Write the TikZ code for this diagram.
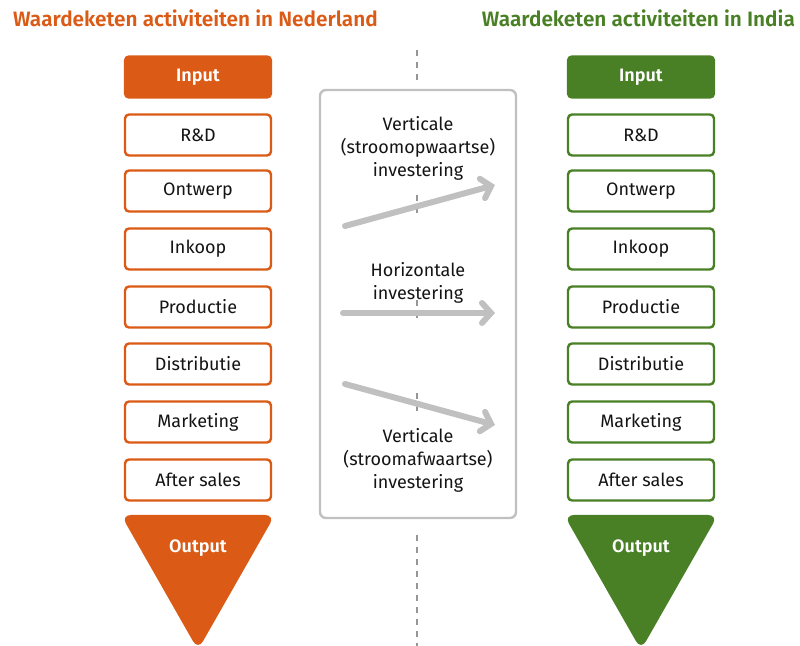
\documentclass[tikz,border=0pt]{standalone}
\usepackage{fontspec}
\setmainfont{Fira Sans}[BoldFont={Fira Sans SemiBold}]
\usepackage{tikz}
\usetikzlibrary{arrows.meta, positioning, calc}
\definecolor{nlorange}{RGB}{218,90,22}
\definecolor{ingreen}{RGB}{73,128,37}
\definecolor{midgray}{RGB}{192,192,192}
\definecolor{dashgray}{RGB}{150,150,150}
\definecolor{txtdark}{RGB}{20,20,20}
\tikzset{
  stepnl/.style={rectangle, draw=nlorange, fill=white,
    minimum width=73pt, minimum height=20.5pt,
    font=\fontsize{9}{11}\selectfont, text=txtdark, rounded corners=2pt, line width=1.2pt},
  stepin/.style={stepnl, draw=ingreen},
  inputnl/.style={stepnl, fill=nlorange, text=white, font=\fontsize{9}{11}\selectfont\bfseries},
  inputin/.style={inputnl, draw=ingreen, fill=ingreen},
  titletext/.style={font=\fontsize{10.4}{12}\selectfont\bfseries},
  midtext/.style={align=center, font=\fontsize{9}{11.5}\selectfont, text=txtdark},
  invarrow/.style={-{Straight Barb[length=4.5pt, width=10pt, line cap=round]}, line width=3pt, color=midgray, line cap=round},
  splitline/.style={dashed, dash pattern=on 3pt off 3pt, color=dashgray, line width=0.6pt}
}

\begin{document}
\begin{tikzpicture}[x=0.5pt, y=-0.5pt]
  \useasboundingbox (0,0) rectangle (800,646);

  % titles
  \node[titletext, text=nlorange, anchor=west] (titlenl) at (6,18) {Waardeketen activiteiten in Nederland};
  \node[titletext, text=ingreen, anchor=east] (titlein) at (802,18) {Waardeketen activiteiten in India};

  % dividing line
  \draw[splitline] (417,50) -- (417,82);
  \draw[splitline] (417,535) -- (417,646);

  % Value chain Netherlands (left side)
  \node[inputnl] (nlinput) at (198,77) {Input};
  \node[stepnl] (nlrd) at (198,135) {R\&D};
  \node[stepnl] (nlontwerp) at (198,191) {Ontwerp};
  \node[stepnl] (nlinkoop) at (198,249) {Inkoop};
  \node[stepnl] (nlproductie) at (198,307) {Productie};
  \node[stepnl] (nldistributie) at (198,364) {Distributie};
  \node[stepnl] (nlmarketing) at (198,422) {Marketing};
  \node[stepnl] (nlaftersales) at (198,480) {After sales};
  \fill[nlorange, rounded corners=5pt] (121,515) -- (275,515) -- (198,650) -- cycle;
  \node[font=\fontsize{9}{11}\selectfont\bfseries, text=white] (nloutput) at (198,548) {Output};

  % Value chain India (right side)
  \node[inputin] (ininput) at (641,77) {Input};
  \node[stepin] (inrd) at (641,135) {R\&D};
  \node[stepin] (inontwerp) at (641,191) {Ontwerp};
  \node[stepin] (ininkoop) at (641,249) {Inkoop};
  \node[stepin] (inproductie) at (641,307) {Productie};
  \node[stepin] (indistributie) at (641,364) {Distributie};
  \node[stepin] (inmarketing) at (641,422) {Marketing};
  \node[stepin] (inaftersales) at (641,480) {After sales};
  \fill[ingreen, rounded corners=5pt] (564,515) -- (718,515) -- (641,650) -- cycle;
  \node[font=\fontsize{9}{11}\selectfont\bfseries, text=white] (inoutput) at (641,548) {Output};

  % investment types (middle)
  \draw[midgray, line width=1.2pt, rounded corners=3pt] (320,90) rectangle (516,518);
  \draw[splitline] (417,195) -- (417,217);
  \draw[splitline] (417,300) -- (417,322);
  \draw[splitline] (417,393) -- (417,415);

  \node[midtext] (upstream) at (418,148) {Verticale\\(stroomopwaartse)\\investering};
  \node[midtext] (horizontal) at (418,283) {Horizontale\\investering};
  \node[midtext] (downstream) at (418,460) {Verticale\\(stroomafwaartse)\\investering};

  \coordinate (upfrom) at (345,226);
  \coordinate (upto) at (495,185);
  \coordinate (horfrom) at (343,313);
  \coordinate (horto) at (495,313);
  \coordinate (downfrom) at (345,384);
  \coordinate (downto) at (495,425);
  \draw[invarrow] (upfrom) -- (upto);
  \draw[invarrow] (horfrom) -- (horto);
  \draw[invarrow] (downfrom) -- (downto);
\end{tikzpicture}
\end{document}
